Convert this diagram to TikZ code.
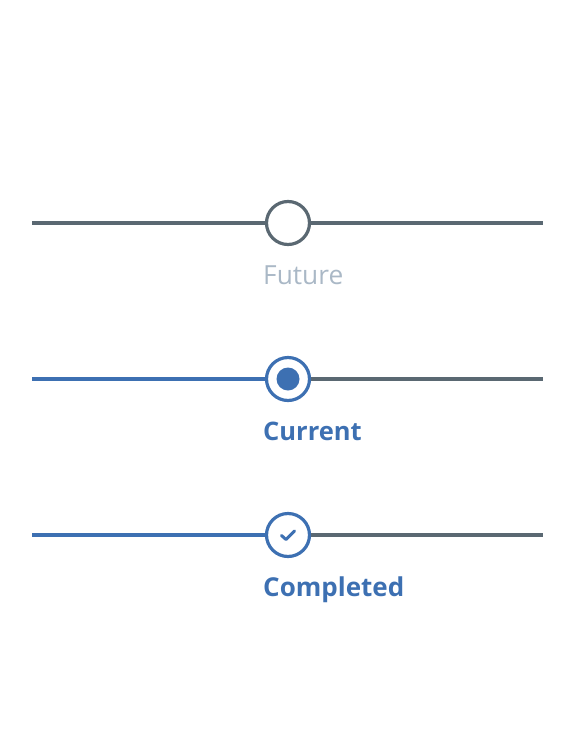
\documentclass[tikz,border=0pt]{standalone}
\usepackage{fontspec}
\setmainfont{Open Sans}
\definecolor{lineg}{HTML}{5A6872}
\definecolor{blueC}{HTML}{3D70B2}
\definecolor{futg}{HTML}{AAB8C6}
\begin{document}
\begin{tikzpicture}[x=1pt,y=-1pt,
  track/.style={line width=3.2pt},
  stepcirc/.style={circle,line width=3.2pt,minimum size=43pt,inner sep=0pt,fill=white},
  lab/.style={anchor=base west,inner sep=0pt,font=\fontsize{26.3}{30}\selectfont}]
\useasboundingbox (0,0) rectangle (580,742);
% Future
\coordinate (fl) at (32,223);
\coordinate (fr) at (543,223);
\node[stepcirc,draw=lineg] (f) at (288,223) {};
\draw[track,lineg] (fl) -- (f.west);
\draw[track,lineg] (f.east) -- (fr);
\node[lab,text=futg] (ft) at (263,284) {Future};
% Current
\coordinate (cl) at (32,379);
\coordinate (cr) at (543,379);
\node[stepcirc,draw=blueC] (c) at (288,379) {};
\fill[blueC] (c.center) circle (11.5);
\draw[track,blueC] (cl) -- (c.west);
\draw[track,lineg] (c.east) -- (cr);
\node[lab,text=blueC,font=\fontsize{25.5}{30}\selectfont\bfseries] (ct) at (263,440) {Current};
% Completed
\coordinate (dl) at (32,535);
\coordinate (dr) at (543,535);
\node[stepcirc,draw=blueC] (d) at (288,535) {};
\draw[blueC,line width=3pt,line cap=round,line join=round] ([shift={(-6.5,0.5)}]d.center) -- ([shift={(-2,4.5)}]d.center) -- ([shift={(6.5,-4)}]d.center);
\draw[track,blueC] (dl) -- (d.west);
\draw[track,lineg] (d.east) -- (dr);
\node[lab,text=blueC,font=\fontsize{26}{30}\selectfont\bfseries] (dt) at (263,596) {Completed};
\end{tikzpicture}
\end{document}
